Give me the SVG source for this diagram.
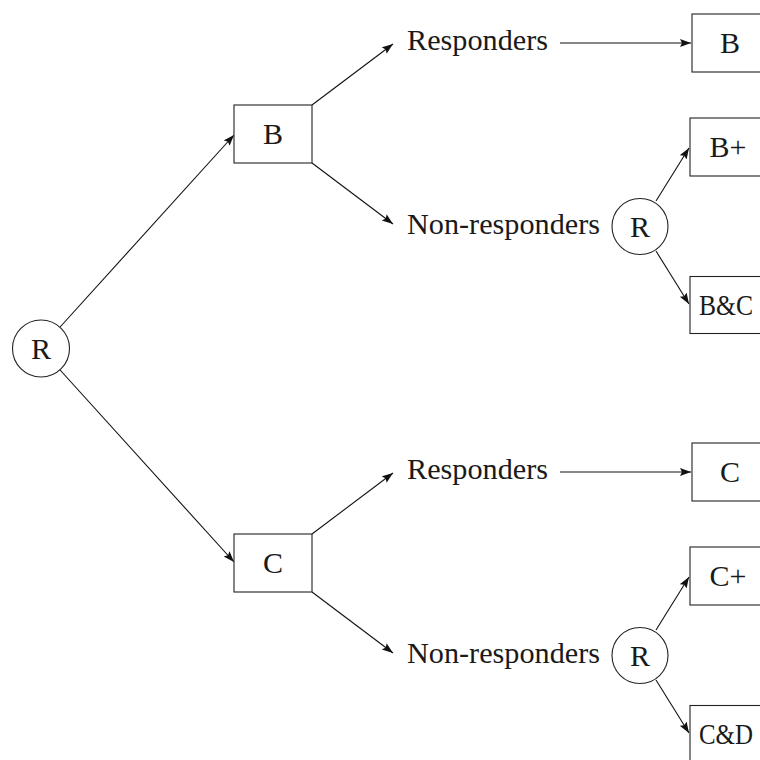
<svg xmlns="http://www.w3.org/2000/svg" width="760" height="760" viewBox="0 0 760 760">
<defs>
<marker id="ah" markerUnits="userSpaceOnUse" markerWidth="12" markerHeight="9" refX="11" refY="4" orient="auto">
<path d="M0,0 L11,4 L0,8 L2,4 z" fill="#111"/>
</marker>
<style>
.n{fill:#fff;stroke:#222;stroke-width:1.1}
.t{font-family:"Liberation Serif","Times New Roman",serif;font-size:30px;fill:#1a1a1a}
.s{font-size:29px}
.m{text-anchor:middle}
.c line{stroke:#111;stroke-width:1.1;marker-end:url(#ah)}
</style>
</defs>
<rect width="760" height="760" fill="#fff"/>
<g class="c" id="connectors">
<line x1="60.1" y1="327" x2="234" y2="135"/>
<line x1="60.1" y1="370" x2="234" y2="562"/>
<line x1="312" y1="105" x2="393" y2="44"/>
<line x1="312" y1="163" x2="393" y2="224"/>
<line x1="560" y1="43" x2="691" y2="43"/>
<line x1="656" y1="201" x2="689" y2="148"/>
<line x1="656" y1="251" x2="689" y2="304"/>
<line x1="312" y1="534" x2="393" y2="473"/>
<line x1="312" y1="592" x2="393" y2="653"/>
<line x1="560" y1="472" x2="691" y2="472"/>
<line x1="656" y1="630" x2="689" y2="577"/>
<line x1="656" y1="680" x2="689" y2="733"/>
</g>
<g id="root"><circle class="n" cx="41" cy="348.5" r="28.5"/><text class="t m" x="41" y="358.5">R</text></g>
<g id="boxB"><rect class="n" x="234" y="105" width="78" height="58"/><text class="t m" x="273" y="144">B</text></g>
<g id="boxC"><rect class="n" x="234" y="534" width="78" height="58"/><text class="t m" x="273" y="573">C</text></g>
<g id="respB"><text class="t" x="407" y="49.5" textLength="141" lengthAdjust="spacingAndGlyphs">Responders</text></g>
<g id="nonrespB"><text class="t" x="407" y="234" textLength="193" lengthAdjust="spacingAndGlyphs">Non-responders</text></g>
<g id="respC"><text class="t" x="407" y="478.5" textLength="141" lengthAdjust="spacingAndGlyphs">Responders</text></g>
<g id="nonrespC"><text class="t" x="407" y="663" textLength="193" lengthAdjust="spacingAndGlyphs">Non-responders</text></g>
<g id="outB"><rect class="n" x="692" y="14" width="80" height="58"/><text class="t m" x="730" y="53">B</text></g>
<g id="outBplus"><rect class="n" x="690" y="118" width="80" height="58"/><text class="t m" x="728" y="157">B+</text></g>
<g id="rB"><circle class="n" cx="640" cy="226.5" r="28"/><text class="t m" x="640" y="236.5">R</text></g>
<g id="outBC"><rect class="n" x="690" y="276.5" width="80" height="57"/><text class="t s" x="699" y="315" textLength="54" lengthAdjust="spacingAndGlyphs">B&amp;C</text></g>
<g id="outC"><rect class="n" x="692" y="443" width="80" height="58"/><text class="t m" x="730" y="482">C</text></g>
<g id="outCplus"><rect class="n" x="690" y="547" width="80" height="58"/><text class="t m" x="728" y="586">C+</text></g>
<g id="rC"><circle class="n" cx="640" cy="655.5" r="28"/><text class="t m" x="640" y="665.5">R</text></g>
<g id="outCD"><rect class="n" x="690" y="705.5" width="80" height="57"/><text class="t s" x="699" y="744" textLength="54" lengthAdjust="spacingAndGlyphs">C&amp;D</text></g>
</svg>
